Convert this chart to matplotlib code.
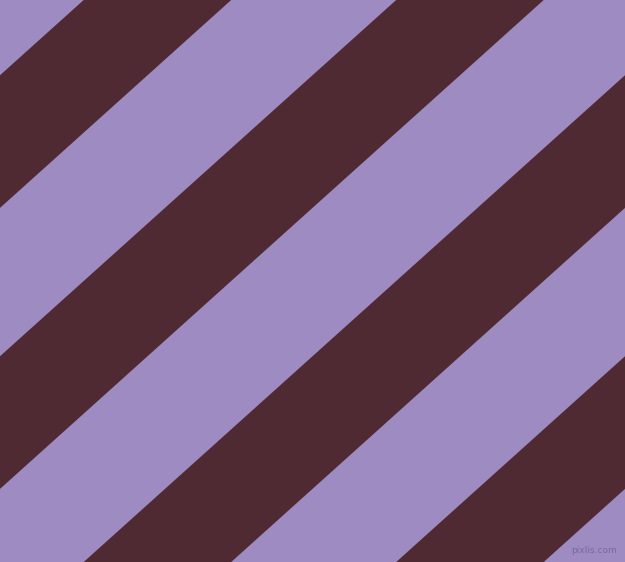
import matplotlib
matplotlib.use("Agg")
import matplotlib.pyplot as plt
from matplotlib.patches import Polygon

# Data
img_w, img_h = 625, 562
bg_color = "#9d8bc1"          # lavender
stripe_color = "#4f2a33"      # dark maroon
# x-position where each maroon stripe's upper/left edge meets the top border (px)
stripe_starts = [-228.8, 83.7, 396.2, 708.7, 1021.2]
stripe_width_x = 147.5        # horizontal width of each maroon stripe (px)
slope = 562 / 625             # dy/dx of stripe edges (~42 degrees)
watermark = "pixlis.com"

fig = plt.figure(figsize=(img_w / 100, img_h / 100), dpi=100)
ax = fig.add_axes([0, 0, 1, 1])
ax.set_xlim(0, img_w)
ax.set_ylim(img_h, 0)
ax.axis("off")
ax.add_patch(plt.Rectangle((0, 0), img_w, img_h, color=bg_color, zorder=0))

shift = img_h / slope
for s in stripe_starts:
    poly = Polygon([(s, 0), (s + stripe_width_x, 0),
                    (s + stripe_width_x - shift, img_h), (s - shift, img_h)],
                   closed=True, facecolor=stripe_color, edgecolor="none",
                   antialiased=True, zorder=1)
    ax.add_patch(poly)

ax.text(617, 550.5, watermark, ha="right", va="center", fontsize=6.5,
        color="#7a6a9a", zorder=2)

fig.savefig("out.png", dpi=100)
